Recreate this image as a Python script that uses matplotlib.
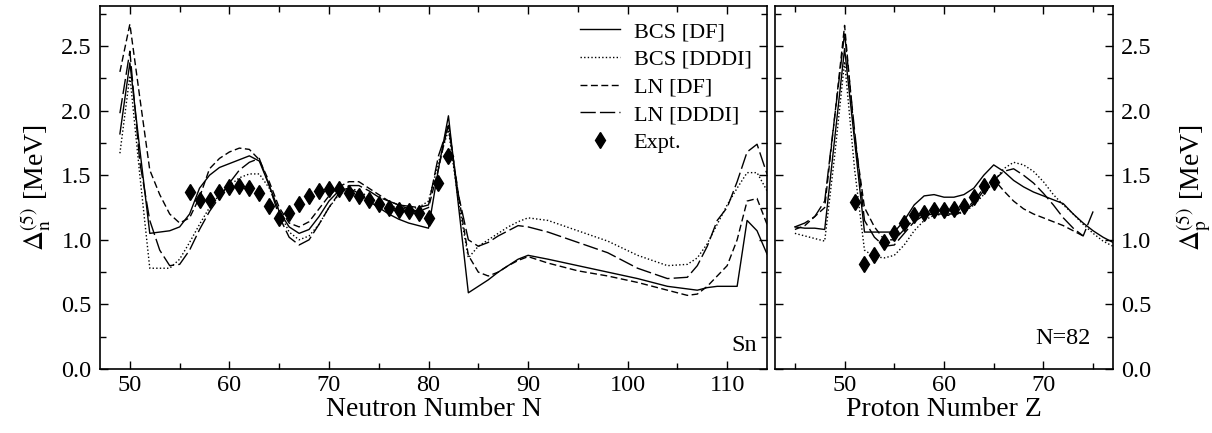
import numpy as np
import matplotlib
matplotlib.use("Agg")
import matplotlib.pyplot as plt

plt.rcParams['font.family'] = ['Liberation Serif', 'DejaVu Serif']
plt.rcParams['mathtext.fontset'] = 'stix'

# ---- Sn isotopes (vs neutron number N) ----
N_th = [49, 50, 51, 52, 53, 54, 55, 56, 57, 58, 59, 60, 61, 62, 63, 64, 65, 66,
        67, 68, 69, 70, 71, 72, 73, 74, 75, 76, 77, 78, 79, 80, 81, 82, 83, 84,
        85, 86, 87, 88, 89, 90, 92, 95, 98, 101, 104, 106, 107, 108, 109, 110,
        111, 112, 113, 114]
sn_bcs_df = [1.82, 2.37, 1.70, 1.05, 1.06, 1.07, 1.10, 1.20, 1.40, 1.50, 1.56, 1.59, 1.62, 1.65, 1.61, 1.42, 1.22, 1.10,
             1.05, 1.08, 1.18, 1.30, 1.38, 1.40, 1.36, 1.30, 1.25, 1.20, 1.16, 1.13, 1.11, 1.09, 1.55, 1.96, 1.27, 0.59,
             0.64, 0.69, 0.75, 0.80, 0.85, 0.88, 0.85, 0.80, 0.75, 0.70, 0.64, 0.62, 0.61, 0.63, 0.64, 0.64,
             0.64, 1.15, 1.07, 0.89]
sn_bcs_dddi = [1.67, 2.27, 1.50, 0.78, 0.78, 0.78, 0.85, 0.98, 1.12, 1.25, 1.35, 1.42, 1.48, 1.51, 1.51, 1.40, 1.22, 1.06,
               1.00, 1.03, 1.12, 1.25, 1.35, 1.40, 1.38, 1.33, 1.29, 1.26, 1.25, 1.24, 1.25, 1.30, 1.60, 1.85, 1.30, 0.86,
               0.95, 1.00, 1.05, 1.10, 1.14, 1.17, 1.15, 1.07, 0.99, 0.88, 0.80, 0.81, 0.86, 0.97, 1.12, 1.27,
               1.40, 1.52, 1.52, 1.38]
sn_ln_df = [2.30, 2.67, 2.10, 1.54, 1.35, 1.20, 1.13, 1.17, 1.33, 1.55, 1.63, 1.68, 1.71, 1.70, 1.62, 1.45, 1.25, 1.13,
            1.10, 1.14, 1.24, 1.34, 1.41, 1.45, 1.45, 1.40, 1.35, 1.30, 1.27, 1.24, 1.22, 1.25, 1.55, 1.90, 1.35, 0.88,
            0.75, 0.72, 0.75, 0.80, 0.84, 0.87, 0.82, 0.76, 0.72, 0.67, 0.61, 0.57, 0.58, 0.64, 0.72, 0.80,
            1.00, 1.30, 1.32, 1.12]
sn_ln_dddi = [1.98, 2.46, 1.60, 1.15, 0.92, 0.80, 0.81, 0.92, 1.08, 1.22, 1.33, 1.44, 1.54, 1.60, 1.63, 1.42, 1.18, 1.02,
              0.96, 1.00, 1.12, 1.25, 1.36, 1.42, 1.42, 1.38, 1.33, 1.30, 1.27, 1.26, 1.25, 1.27, 1.65, 1.88, 1.35, 1.00,
              0.95, 0.98, 1.03, 1.07, 1.11, 1.10, 1.06, 0.98, 0.90, 0.78, 0.70, 0.71, 0.80, 0.95, 1.15, 1.25,
              1.45, 1.68, 1.74, 1.51]
N_exp = list(range(56, 83))
sn_exp = [1.37, 1.31, 1.31, 1.37, 1.41, 1.42, 1.40, 1.36, 1.26, 1.17, 1.21, 1.28, 1.34, 1.38,
          1.39, 1.39, 1.36, 1.34, 1.31, 1.28, 1.25, 1.23, 1.22, 1.21, 1.17, 1.44, 1.65]

# ---- N=82 isotones (vs proton number Z) ----
Z_th = list(range(45, 78))
n82_bcs_df = [1.10, 1.09, 1.09, 1.08, 1.78, 2.48, 1.77, 1.06, 1.06, 1.06, 1.06, 1.15, 1.27, 1.34, 1.35, 1.33, 1.33,
              1.35, 1.40, 1.50, 1.58, 1.53, 1.46, 1.41, 1.37, 1.34, 1.31, 1.28, 1.20, 1.13, 1.07, 1.02, 0.98]
n82_bcs_dddi = [1.05, 1.03, 1.01, 0.99, 1.65, 2.38, 1.55, 0.92, 0.87, 0.86, 0.88, 0.96, 1.07, 1.15, 1.19, 1.20, 1.20,
                1.21, 1.27, 1.35, 1.45, 1.55, 1.60, 1.58, 1.53, 1.45, 1.35, 1.27, 1.20, 1.12, 1.05, 0.99, 0.95]
Z_ln_df = list(range(45, 75))
n82_ln_df = [1.08, 1.11, 1.18, 1.25, 1.95, 2.66, 1.80, 1.25, 1.10, 1.00, 1.00, 1.08, 1.16, 1.20, 1.20, 1.19, 1.19,
             1.22, 1.30, 1.40, 1.47, 1.38, 1.30, 1.24, 1.20, 1.17, 1.14, 1.11, 1.07, 1.03]
Z_ln_dddi = list(range(45, 76))
n82_ln_dddi = [1.10, 1.13, 1.18, 1.30, 1.95, 2.60, 1.85, 1.15, 1.02, 0.95, 0.96, 1.05, 1.14, 1.19, 1.20, 1.20, 1.20,
               1.22, 1.28, 1.38, 1.46, 1.53, 1.55, 1.50, 1.44, 1.36, 1.27, 1.17, 1.09, 1.03, 1.22]
Z_exp = list(range(51, 66))
n82_exp = [1.29, 0.81, 0.88, 0.98, 1.05, 1.13, 1.19, 1.21, 1.23, 1.23, 1.24, 1.26, 1.33, 1.42, 1.45]

labels = ['BCS [DF]', 'BCS [DDDI]', 'LN [DF]', 'LN [DDDI]', 'Expt.']
styles = ['-', (0, (1, 1.6)), (0, (5, 2.5)), (0, (11, 3))]

fig = plt.figure(figsize=(12.12, 4.33), dpi=100)
W, H = 1212.0, 433.0
ax1 = fig.add_axes([100 / W, 64 / H, 667 / W, 363 / H])
ax2 = fig.add_axes([775 / W, 64 / H, 338 / W, 363 / H])

lw = 1.0
for ys, ls, lab in zip([sn_bcs_df, sn_bcs_dddi, sn_ln_df, sn_ln_dddi], styles, labels):
    ax1.plot(N_th, ys, color='black', lw=lw, linestyle=ls, label=lab)
ax1.plot(N_exp, sn_exp, linestyle='none', marker='d', ms=7.8, color='black', label=labels[4])

ax2.plot(Z_th, n82_bcs_df, color='black', lw=lw, linestyle=styles[0])
ax2.plot(Z_th, n82_bcs_dddi, color='black', lw=lw, linestyle=styles[1])
ax2.plot(Z_ln_df, n82_ln_df, color='black', lw=lw, linestyle=styles[2])
ax2.plot(Z_ln_dddi, n82_ln_dddi, color='black', lw=lw, linestyle=styles[3])
ax2.plot(Z_exp, n82_exp, linestyle='none', marker='d', ms=7.8, color='black')

for ax in (ax1, ax2):
    ax.set_yticks(np.arange(0, 2.51, 0.5))
    ax.set_yticks(np.arange(0, 2.8, 0.25), minor=True)
    ax.tick_params(which='both', direction='in', top=True, right=True, left=True, bottom=True,
                   labelsize=17.5, width=1.0, pad=6)
    ax.tick_params(which='major', length=6)
    ax.tick_params(which='minor', length=4)
    ax.tick_params(axis='x', pad=4)
    ax.yaxis.set_major_formatter(matplotlib.ticker.FormatStrFormatter('%.1f'))
    for s in ax.spines.values():
        s.set_linewidth(1.2)
ax1.set_xticks(np.arange(50, 115, 10))
ax1.set_xticks(np.arange(45, 115, 5), minor=True)
ax2.set_xticks(np.arange(50, 78, 10))
ax2.set_xticks(np.arange(45, 78, 5), minor=True)
ax2.tick_params(labelleft=False, labelright=True)
ax1.set_xlim(47, 114)
ax2.set_xlim(43, 77)
ax1.set_ylim(0, 2.81)
ax2.set_ylim(0, 2.81)

ax1.set_xlabel('Neutron Number N', fontsize=20, labelpad=1)
ax2.set_xlabel('Proton Number Z', fontsize=20, labelpad=1)
ax1.set_ylabel(r'$\Delta_{\rm n}^{(5)}$ [MeV]', fontsize=20, labelpad=6)
ax2.set_ylabel(r'$\Delta_{\rm p}^{(5)}$ [MeV]', fontsize=20, labelpad=16)
ax2.yaxis.set_label_position('right')

ax1.text(0.985, 0.05, 'Sn', transform=ax1.transAxes, ha='right', va='baseline', fontsize=17.5)
ax2.text(0.935, 0.07, 'N=82', transform=ax2.transAxes, ha='right', va='baseline', fontsize=17.5)

ax1.legend(loc='upper right', bbox_to_anchor=(1.0, 1.0), frameon=False, fontsize=16,
           handlelength=1.8, handletextpad=0.6, labelspacing=0.32, borderaxespad=0.3)

fig.savefig('out.png', dpi=100)
